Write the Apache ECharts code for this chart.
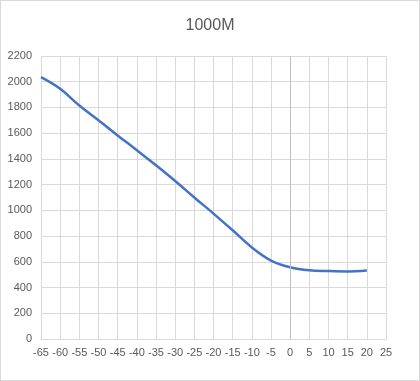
<!DOCTYPE html>
<html>
<head>
<meta charset="utf-8">
<script src="https://cdn.jsdelivr.net/npm/echarts@6/dist/echarts.min.js"></script>
<style>
html,body{margin:0;padding:0;background:#fff;}
#c{width:420px;height:381px;box-sizing:border-box;border:1px solid #d9d9d9;}
</style>
</head>
<body>
<div id="c"></div>
<script>
var titleText = "1000M";
var xValues = [-65, -60, -55, -50, -45, -40, -35, -30, -25, -20, -15, -10, -5, 0, 5, 10, 15, 20];
var yValues = [2035, 1945, 1815, 1700, 1582, 1468, 1350, 1228, 1100, 975, 845, 712, 610, 558, 534, 528, 525, 532];

var data = xValues.map(function (x, i) { return [x, yValues[i]]; });
var chart = echarts.init(document.getElementById('c'), null, {renderer: 'canvas'});
var txt = '#595959';
var ff = 'Liberation Sans, Arial, sans-serif';
chart.setOption({
  animation: false,
  backgroundColor: '#fff',
  title: {
    text: titleText, left: 'center', top: 12,
    textStyle: {fontFamily: ff, fontSize: 16, fontWeight: 'normal', color: txt}
  },
  grid: {left: 40, right: 33, top: 55, bottom: 41},
  xAxis: {
    type: 'value', min: -65, max: 25, interval: 5,
    axisLine: {show: true, onZero: false, lineStyle: {color: '#d9d9d9'}},
    axisTick: {show: false},
    axisLabel: {color: txt, fontSize: 11, fontFamily: ff, margin: 8},
    splitLine: {show: true, lineStyle: {color: '#d9d9d9'}}
  },
  yAxis: {
    type: 'value', min: 0, max: 2200, interval: 200,
    axisLine: {show: false},
    axisTick: {show: false},
    axisLabel: {color: txt, fontSize: 11, fontFamily: ff, margin: 9, formatter: function (v) { return String(v); }},
    splitLine: {show: true, lineStyle: {color: '#d9d9d9'}}
  },
  series: [{
    type: 'line', data: data, smooth: 0.35, showSymbol: false,
    lineStyle: {color: '#4472C4', width: 2.5},
    markLine: {
      silent: true, symbol: 'none', label: {show: false},
      lineStyle: {color: '#bfbfbf', type: 'solid', width: 1},
      data: [{xAxis: 0}]
    }
  }]
});
</script>
</body>
</html>
